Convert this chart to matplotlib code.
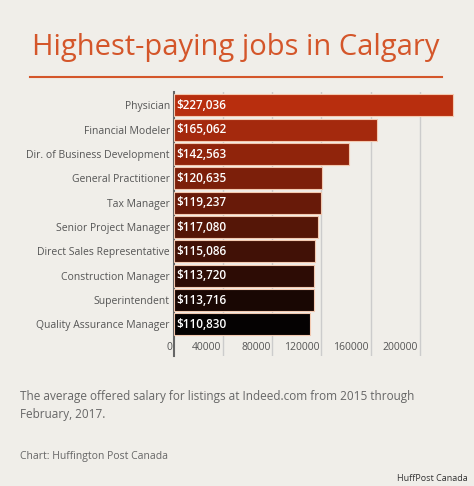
import matplotlib
matplotlib.use("Agg")
import matplotlib.pyplot as plt
import numpy as np

jobs = ["Physician", "Financial Modeler", "Dir. of Business Development", "General Practitioner",
        "Tax Manager", "Senior Project Manager", "Direct Sales Representative",
        "Construction Manager", "Superintendent", "Quality Assurance Manager"]
salaries = [227036, 165062, 142563, 120635, 119237, 117080, 115086, 113720, 113716, 110830]
labels = ["$227,036", "$165,062", "$142,563", "$120,635", "$119,237", "$117,080",
          "$115,086", "$113,720", "$113,716", "$110,830"]
ticks = [0, 40000, 80000, 120000, 160000, 200000]

bg = "#f0eee9"
W, H = 474, 486
fig = plt.figure(figsize=(W/100, H/100), dpi=100, facecolor=bg)
plt.rcParams['font.family'] = ['Open Sans', 'DejaVu Sans']

def fx(px): return px / W
def fy(py): return 1 - py / H

ax = fig.add_axes([fx(174), fy(356), fx(456) - fx(174), fy(92) - fy(356)])
ax.set_facecolor(bg)
n = len(jobs)
c0 = np.array([0xb8, 0x2e, 0x0e]) / 255
c1 = np.array([0x05, 0x02, 0x02]) / 255
cols = [tuple(c0 + (c1 - c0) * i / (n - 1)) for i in range(n)]
y = np.arange(n)
ax.barh(y, salaries, height=0.9, color=cols, edgecolor="#f3c9b0", linewidth=0.8, zorder=3)
for yi, lab in zip(y, labels):
    ax.text(1500, yi, lab, color="white", va="center", ha="left", fontsize=8.5,
            fontweight="semibold", zorder=4)
ax.set_ylim(n - 0.5 + 0.8, -0.5 - 0.05)
ax.set_xlim(0, 229500)
ax.set_yticks(y)
ax.set_yticklabels(jobs, fontsize=7.5, color="#555555")
ax.tick_params(axis='y', length=0, pad=3)
ax.set_xticks(ticks[1:])
ax.set_xticklabels([])
ax.tick_params(axis='x', length=0)
for t in ticks:
    ax.text(t - 1500, n - 0.5 + 0.45, str(t), ha="right", va="center", fontsize=7.5, color="#555555")
ax.grid(axis='x', color="#cccccc", linewidth=1, zorder=0)
for s in ["top", "right", "bottom"]:
    ax.spines[s].set_visible(False)
ax.spines["left"].set_color("#666666")
ax.spines["left"].set_linewidth(1.5)

fig.text(fx(236), fy(48), "Highest-paying jobs in Calgary", ha="center", va="center",
         fontsize=21, color="#d4562a")
fig.add_artist(plt.Line2D([fx(30), fx(442)], [fy(77), fy(77)], color="#d4562a", linewidth=1.5))
fig.text(fx(20), fy(390), "The average offered salary for listings at Indeed.com from 2015 through\nFebruary, 2017.",
         ha="left", va="top", fontsize=8.5, color="#666666", linespacing=1.5)
fig.text(fx(20), fy(456), "Chart: Huffington Post Canada", ha="left", va="center", fontsize=7.5, color="#666666")
fig.text(fx(468), fy(478), "HuffPost Canada", ha="right", va="center", fontsize=6.5, color="#333333")
fig.savefig("out.png", dpi=100, facecolor=bg)
